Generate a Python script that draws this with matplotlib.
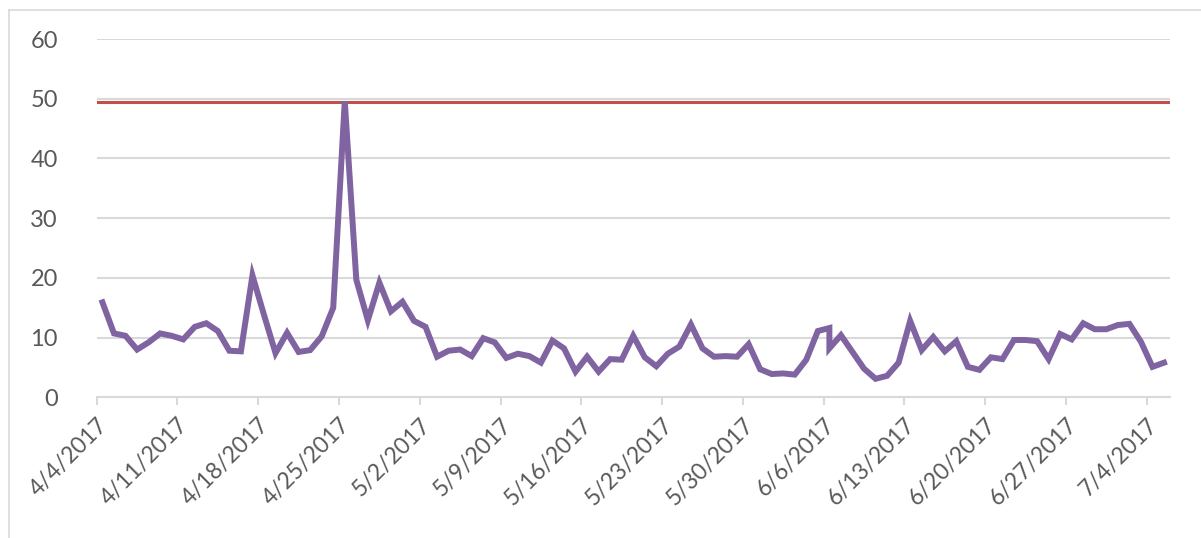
import datetime as dt
import matplotlib
matplotlib.use("Agg")
import matplotlib.pyplot as plt
import matplotlib.dates as mdates
from matplotlib.lines import Line2D

# daily values 4/4/2017 .. 7/5/2017 (6/6 has two readings)
start = dt.date(2017, 4, 4)
values = [15.9, 10.7, 10.3, 8.0, 9.2, 10.7, 10.3, 9.7, 11.8, 12.4,
          11.1, 7.8, 7.7, 20.4, 13.8, 7.4, 10.8, 7.6, 7.9, 10.2,
          15.0, 49.6, 19.7, 12.9, 19.2, 14.4, 16.0, 12.8, 11.8, 6.8,
          7.8, 8.0, 6.9, 9.9, 9.2, 6.6, 7.3, 6.9, 5.8, 9.5,
          8.2, 4.3, 6.8, 4.3, 6.4, 6.3, 10.3, 6.7, 5.2, 7.3,
          8.5, 12.2, 8.2, 6.8, 6.9, 6.8, 8.9, 4.7, 3.9, 4.0,
          3.8, 6.3, 11.1, 11.6, 8.2, 10.4, 7.6, 4.8, 3.1, 3.6,
          5.8, 12.8, 7.9, 10.1, 7.7, 9.4, 5.1, 4.6, 6.7, 6.4,
          9.6, 9.6, 9.4, 6.4, 10.6, 9.7, 12.4, 11.4, 11.4, 12.1,
          12.3, 9.3, 5.1, 5.8]
day_offsets = list(range(0, 64)) + list(range(63, 93))
limit = 49.4

dates = [dt.datetime.combine(start, dt.time(12)) + dt.timedelta(days=d) for d in day_offsets]
tick_dates = [start + dt.timedelta(days=7 * k) for k in range(14)]
tick_labels = [f"{d.month}/{d.day}/{d.year}" for d in tick_dates]

plt.rcParams['font.family'] = ['Lato', 'DejaVu Sans']
fig = plt.figure(figsize=(12.01, 5.38), dpi=100)
ax = fig.add_axes([0.0805, 0.2615, 0.8935, 0.666])

grid_c = "#d9d9d9"
text_c = "#595959"
ax.set_ylim(0, 60)
ax.set_yticks(range(0, 61, 10))
ax.set_xlim(mdates.date2num(start), mdates.date2num(start + dt.timedelta(days=93)))
ax.grid(axis="y", color=grid_c, linewidth=1.5)
ax.set_axisbelow(True)

ax.axhline(limit, color="#c0504d", linewidth=2.2, zorder=2)
ax.plot(dates, values, color="#8064a2", linewidth=4.3, solid_joinstyle="miter", zorder=3)

ax.set_xticks([mdates.date2num(d) for d in tick_dates])
ax.set_xticklabels(tick_labels, rotation=45, ha="right", va="top", rotation_mode="anchor")
for s in ["top", "right", "left"]:
  ax.spines[s].set_visible(False)
ax.spines["bottom"].set_color(grid_c)
ax.spines["bottom"].set_linewidth(1.5)
ax.tick_params(axis="x", colors=grid_c, length=6, width=1.5, labelcolor=text_c, labelsize=16.5, pad=6)
ax.tick_params(axis="y", length=0, labelcolor=text_c, labelsize=17, pad=28)

# chart border (left and top edges visible)
fig.add_artist(Line2D([9 / 1201, 9 / 1201], [0, 1 - 10 / 538], color=grid_c, linewidth=1.2))
fig.add_artist(Line2D([9 / 1201, 1], [1 - 10 / 538, 1 - 10 / 538], color=grid_c, linewidth=1.2))

fig.savefig("out.png", dpi=100)
